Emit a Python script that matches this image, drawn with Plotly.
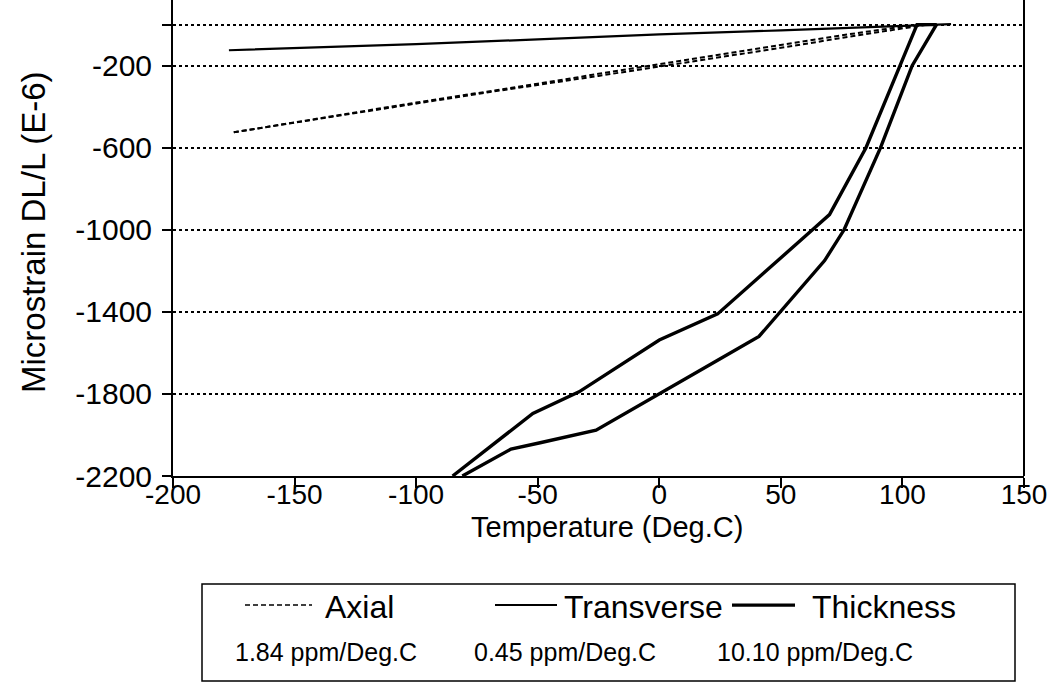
import plotly.graph_objects as go

# ---- data ----
axial_heat_t = [-175, -150, -125, -100, -75, -50, -25, 0, 25, 50, 75, 100, 110]
axial_heat_s = [-525, -475, -428, -380, -335, -288, -240, -193, -145, -98, -52, -10, 0]
axial_cool_t = [-175, -125, -75, -25, 0, 25, 50, 75, 100, 110]
axial_cool_s = [-525, -430, -338, -250, -205, -160, -113, -65, -20, 0]

transverse_t = [-177, -150, -100, -50, 0, 50, 100, 120]
transverse_s = [-125, -115, -95, -72, -48, -28, -5, 2]

thickness_t = [-85, -52, -33, 0, 24, 50, 63, 70, 85, 99, 106,
               114, 104, 91, 76, 68, 50, 41, 24, 0, -26, -49, -61, -81]
thickness_s = [-2200, -1895, -1790, -1537, -1410, -1140, -1000, -926, -600, -200, 0,
               0, -200, -600, -1000, -1150, -1400, -1520, -1636, -1800, -1977, -2038, -2069, -2200]

x_ticks = [-200, -150, -100, -50, 0, 50, 100, 150]
x_ticktext = ["-200", "-150", "-100", "-50", "0", "50", "100", "150"]
y_ticks = [-2200, -1800, -1400, -1000, -600, -200, 0]
y_ticktext = ["-2200", "-1800", "-1400", "-1000", "-600", "-200", ""]

legend_names = ["Axial", "Transverse", "Thickness"]
legend_coefs = ["1.84 ppm/Deg.C", "0.45 ppm/Deg.C", "10.10 ppm/Deg.C"]

FONT = "Liberation Sans, Arial, sans-serif"

fig = go.Figure()
fig.add_trace(go.Scatter(x=axial_heat_t, y=axial_heat_s, mode="lines",
                         line=dict(color="black", width=2, dash="5px,3px")))
fig.add_trace(go.Scatter(x=axial_cool_t, y=axial_cool_s, mode="lines",
                         line=dict(color="black", width=2, dash="5px,3px")))
fig.add_trace(go.Scatter(x=transverse_t, y=transverse_s, mode="lines",
                         line=dict(color="black", width=2.2)))
fig.add_trace(go.Scatter(x=thickness_t, y=thickness_s, mode="lines",
                         line=dict(color="black", width=3.4)))

# plot area geometry (pixels) for legend placement
L, R, T, B = 173, 34, 0, 213
W, H = 1058 - L - R, 689 - T - B


def px(xp):
    return (xp - L) / W


def py(yp):
    return (H - yp) / H


shapes = []
annotations = []

# right border of plot
shapes.append(dict(type="line", xref="paper", yref="paper", x0=1, x1=1, y0=0, y1=1,
                   line=dict(color="black", width=2)))

# legend box
shapes.append(dict(type="rect", xref="paper", yref="paper",
                   x0=px(202), x1=px(1015), y0=py(584), y1=py(681),
                   line=dict(color="black", width=1.5), fillcolor="rgba(0,0,0,0)"))
row1 = py(607)
row2 = py(652)
sample_styles = [dict(width=1.5, dash="5px,3px"), dict(width=2), dict(width=3.4)]
sample_x = [(245, 312), (495, 557), (732, 795)]
text_x = [323, 562, 810]
coef_x = [233, 472, 715]
for name, coef, st, (a, b), tx, cx in zip(legend_names, legend_coefs, sample_styles,
                                         sample_x, text_x, coef_x):
    shapes.append(dict(type="line", xref="paper", yref="paper", x0=px(a), x1=px(b),
                       y0=row1 + 0.004, y1=row1 + 0.004, line=dict(color="black", **st)))
    annotations.append(dict(text=name, xref="paper", yref="paper", x=px(tx), y=row1,
                            xanchor="left", yanchor="middle", showarrow=False,
                            font=dict(family=FONT, size=32, color="black")))
    annotations.append(dict(text=coef, xref="paper", yref="paper", x=px(cx), y=row2,
                            xanchor="left", yanchor="middle", showarrow=False,
                            font=dict(family=FONT, size=25, color="black")))

# axis titles
annotations.append(dict(text="Temperature (Deg.C)", xref="paper", yref="paper",
                        x=px(607), y=py(527), xanchor="center", yanchor="middle",
                        showarrow=False, font=dict(family=FONT, size=29, color="black")))
annotations.append(dict(text="Microstrain DL/L (E-6)", xref="paper", yref="paper",
                        x=px(33), y=py(232), xanchor="center", yanchor="middle",
                        textangle=-90, showarrow=False,
                        font=dict(family=FONT, size=33, color="black")))

fig.update_layout(
    width=1058, height=689,
    margin=dict(l=L, r=R, t=T, b=B, autoexpand=False),
    paper_bgcolor="white", plot_bgcolor="white",
    showlegend=False,
    font=dict(family=FONT, size=30, color="black"),
    shapes=shapes, annotations=annotations,
    xaxis=dict(range=[-200, 150], tickvals=x_ticks, ticktext=x_ticktext,
               ticks="outside", ticklen=10, automargin=False,
               tickwidth=2, tickcolor="black", showline=True, linecolor="black",
               linewidth=2, showgrid=False, zeroline=False, ticklabelstandoff=-18,
               tickfont=dict(family=FONT, size=28, color="black")),
    yaxis=dict(range=[-2200, 120], tickvals=y_ticks, ticktext=y_ticktext,
               ticks="outside", ticklen=9, tickwidth=2, tickcolor="black",
               showline=True, linecolor="black", linewidth=2, mirror=False,
               automargin=False,
               showgrid=True, gridcolor="black", gridwidth=1.5, griddash="dot",
               zeroline=False, ticklabelstandoff=4,
               tickfont=dict(family=FONT, size=30, color="black")),
)

fig.write_html("out.html", config={"displayModeBar": False},
               post_script="document.body.style.margin='0';document.body.style.overflow='hidden';")
